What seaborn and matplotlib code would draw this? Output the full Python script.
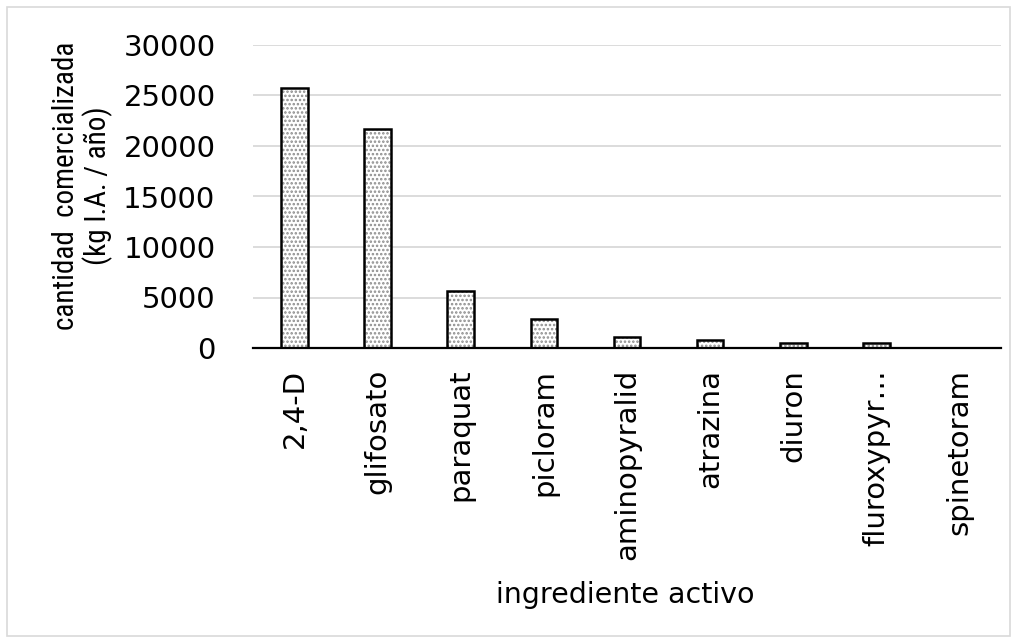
import matplotlib
matplotlib.use("Agg")
import matplotlib.pyplot as plt
from matplotlib.patches import Rectangle
from matplotlib import font_manager
import seaborn as sns
import pandas as pd

ingredientes = ["2,4-D", "glifosato", "paraquat", "picloram", "aminopyralid",
                "atrazina", "diuron", "fluroxypyr…", "spinetoram"]
cantidades = [25730, 21670, 5660, 2900, 1100, 830, 540, 460, 40]
yticks = [0, 5000, 10000, 15000, 20000, 25000, 30000]

df = pd.DataFrame({"ingrediente": ingredientes, "cantidad": cantidades})

sns.set_theme(style="white")
plt.rcParams["font.family"] = ["DejaVu Sans"]
plt.rcParams["hatch.color"] = "#8c8c8c"
plt.rcParams["hatch.linewidth"] = 1.2
for key in ["text.color", "axes.labelcolor", "xtick.color", "ytick.color"]:
    plt.rcParams[key] = "black"

# condensed face for the axis title when one is available
installed = {f.name for f in font_manager.fontManager.ttflist}
narrow = next((n for n in ["Liberation Sans Narrow", "Roboto Condensed", "DejaVu Sans Condensed"]
               if n in installed), "Liberation Sans")
ylab_size = 21 if narrow != "Liberation Sans" else 19

fig = plt.figure(figsize=(10.18, 6.43), dpi=100)
ax = fig.add_axes([253 / 1018, 1 - 348 / 643, (1001 - 253) / 1018, (348 - 45) / 643])

sns.barplot(data=df, x="ingrediente", y="cantidad", color="white",
            width=0.32, ax=ax, saturation=1, linewidth=0)

# dotted fill, then a crisp black outline on top of each bar
for p in list(ax.patches):
    p.set_hatch("....")
    p.set_edgecolor("#8c8c8c")
    p.set_linewidth(0)
    ax.add_patch(Rectangle(p.get_xy(), p.get_width(), p.get_height(),
                           fill=False, edgecolor="black", linewidth=1.8, zorder=3))

ax.set_ylim(0, 30000)
ax.set_xlim(-0.5, len(ingredientes) - 0.5)
ax.set_yticks(yticks)
ax.set_yticklabels([str(v) for v in yticks], fontsize=21)
ax.set_xticks(range(len(ingredientes)))
ax.set_xticklabels(ingredientes, rotation=90, fontsize=21)
ax.tick_params(axis="both", length=0)
ax.tick_params(axis="x", pad=15)
ax.tick_params(axis="y", pad=27)

ax.yaxis.grid(True, color="#d9d9d9", linewidth=1.3)
ax.set_axisbelow(True)
for side in ["top", "right", "left"]:
    ax.spines[side].set_visible(False)
ax.spines["bottom"].set_color("black")
ax.spines["bottom"].set_linewidth(1.6)
ax.spines["bottom"].set_zorder(4)

ax.set_ylabel("cantidad  comercializada\n(kg I.A. / año)", fontsize=ylab_size,
              linespacing=1.1, family=[narrow, "DejaVu Sans"])
ax.yaxis.set_label_coords(-0.187, 0.535)
ax.set_xlabel("ingrediente activo", fontsize=20.5)
ax.xaxis.set_label_coords(0.497, -0.77)

# light frame around the whole chart
fig.patches.append(Rectangle((7 / 1018, 7 / 643), 1003 / 1018, 629 / 643,
                             transform=fig.transFigure, fill=False,
                             edgecolor="#d9d9d9", linewidth=1.2))

fig.savefig("out.png", dpi=100)
